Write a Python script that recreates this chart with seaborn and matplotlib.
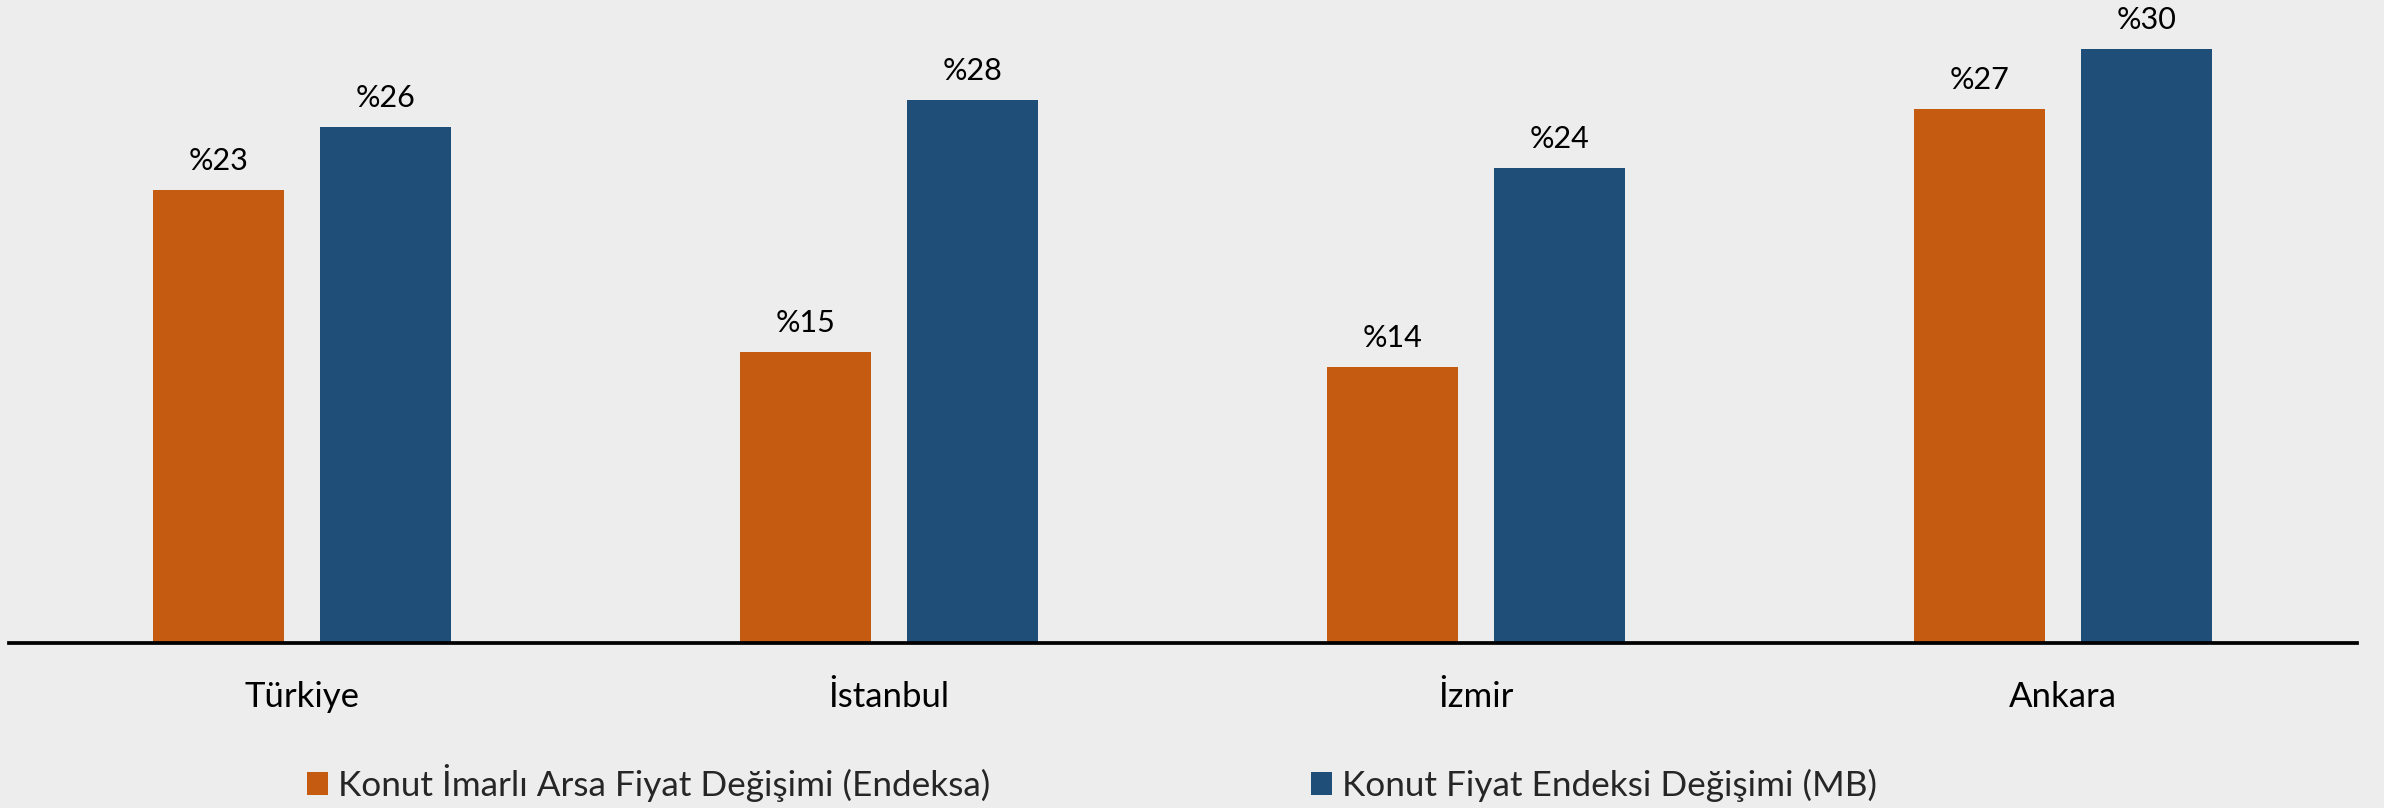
import matplotlib
matplotlib.use("Agg")
import matplotlib.pyplot as plt
import seaborn as sns
import pandas as pd
from matplotlib.patches import Patch

# ---- data ----
categories = ["Türkiye", "İstanbul", "İzmir", "Ankara"]
series_names = ["Konut İmarlı Arsa Fiyat Değişimi (Endeksa)",
                "Konut Fiyat Endeksi Değişimi (MB)"]
arsa_values = [23.2, 14.9, 14.1, 27.3]
konut_values = [26.4, 27.8, 24.3, 30.4]
colors = ["#C55A11", "#1F4E79"]

df = pd.DataFrame({
    "Bölge": categories * 2,
    "Seri": [series_names[0]] * len(categories) + [series_names[1]] * len(categories),
    "Değer": arsa_values + konut_values,
})

BG = "#EDEDED"
sns.set_theme(style="white")
plt.rcParams['font.family'] = ['Lato', 'DejaVu Sans']

W, H, DPI = 2384, 808, 100
fig = plt.figure(figsize=(W / DPI, H / DPI), dpi=DPI, facecolor=BG)
axis_y = 643
ax = fig.add_axes([8.5 / W, (H - axis_y) / H, 2348 / W, axis_y / H])
ax.set_facecolor(BG)

sns.barplot(data=df, x="Bölge", y="Değer", hue="Seri", palette=colors,
            width=0.57, gap=0.22, linewidth=0, saturation=1,
            legend=False, ax=ax)

ax.set_xlim(-0.5, len(categories) - 0.5)
ax.set_ylim(0, 32.9)
ax.set_xlabel("")
ax.set_ylabel("")
ax.set_yticks([])
for s in ["top", "left", "right"]:
    ax.spines[s].set_visible(False)
ax.spines["bottom"].set_color("black")
ax.spines["bottom"].set_linewidth(2.7)
ax.spines["bottom"].set_zorder(5)

ax.tick_params(axis="x", length=0, pad=46, labelsize=25, colors="black")
for lbl in ax.get_xticklabels():
    lbl.set_va("baseline")

# value labels
for cont in ax.containers:
    for p in cont.patches:
        h = p.get_height()
        ax.annotate(f"%{round(h)}", xy=(p.get_x() + p.get_width() / 2, h),
                    xytext=(0, 14.4), textcoords="offset points",
                    ha="center", va="baseline", fontsize=22, color="black")

# legend
handles = [Patch(facecolor=c, edgecolor="none") for c in colors]
fs = 25.3
px_per_pt = DPI / 72

def make_legend(colsp):
    return fig.legend(handles, series_names, loc="center left",
                      bbox_to_anchor=(307 / W, 25 / H), bbox_transform=fig.transFigure,
                      ncol=2, frameon=False, fontsize=fs,
                      handlelength=0.6, handleheight=0.6, handletextpad=0.28,
                      columnspacing=colsp, borderpad=0, borderaxespad=0)

leg = make_legend(10)
fig.canvas.draw()
r = fig.canvas.get_renderer()
end_x = leg.get_texts()[0].get_window_extent(r).x1
leg.remove()
colsp = (1311 - end_x) / (fs * px_per_pt)
leg = make_legend(colsp)

fig.savefig("out.png", dpi=DPI, facecolor=BG)
